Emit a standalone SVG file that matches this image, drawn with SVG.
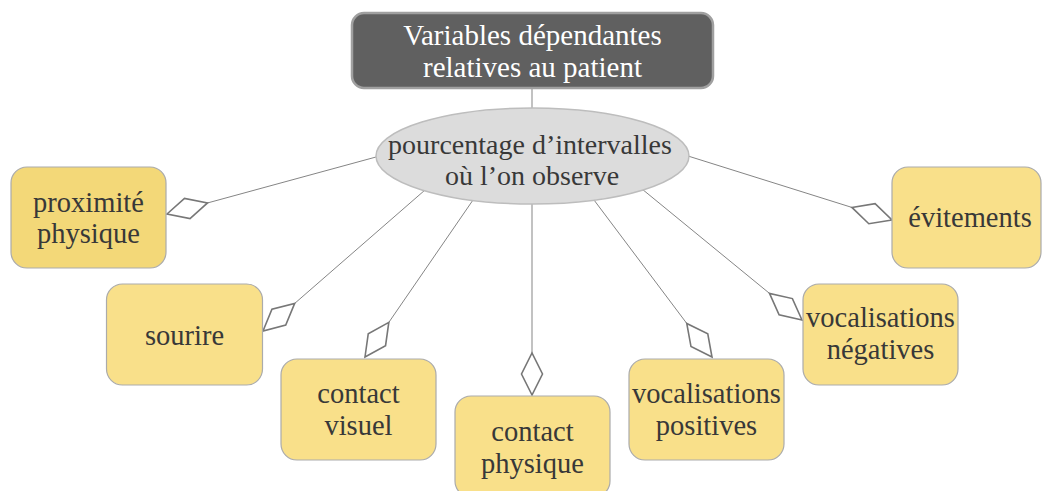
<svg xmlns="http://www.w3.org/2000/svg" width="1042" height="491" viewBox="0 0 1042 491">
  <defs>
    <style>
      .box { fill: #f9e08a; stroke: #ababab; stroke-width: 1.2; }
      .box.alt { fill: #f3d878; }
      .lbl { font-family: "Liberation Serif", "Times New Roman", serif; font-size: 28.5px; fill: #383838; text-anchor: middle; }
      .hub { font-size: 28px; }
      .conn { fill: none; stroke: #858585; stroke-width: 1; marker-start: url(#diamond); }
      .plain { fill: none; stroke: #858585; stroke-width: 1; }
    </style>
    <marker id="diamond" markerUnits="userSpaceOnUse" viewBox="-2 -13 46 26" markerWidth="46" markerHeight="26" refX="0" refY="0" orient="auto" overflow="visible">
      <polygon points="0,0 21,-10.5 42,0 21,10.5" fill="#ffffff" stroke="#777777" stroke-width="1.6" stroke-linejoin="miter"/>
    </marker>
  </defs>
  <rect width="1042" height="491" fill="#ffffff"/>

  <g id="connectors">
    <line class="plain" x1="532" y1="88" x2="532" y2="108"/>
    <path class="conn" d="M167,214 L376,157"/>
    <path class="conn" d="M263,331 L425,190"/>
    <path class="conn" d="M365,357 L473,200"/>
    <path class="conn" d="M532,395 L532,204"/>
    <path class="conn" d="M712,357 L594,200"/>
    <path class="conn" d="M802,320 L642,189"/>
    <path class="conn" d="M892,220 L688,156"/>
  </g>

  <g id="root">
    <rect x="352" y="13" width="361" height="75" rx="12" fill="#606060" stroke="#a0a0a0" stroke-width="2.5"/>
    <text class="lbl" x="532.5" y="45" style="fill:#ffffff;font-size:29px">Variables dépendantes</text>
    <text class="lbl" x="532.5" y="77" style="fill:#ffffff;font-size:29px">relatives au patient</text>
  </g>

  <g id="hub">
    <ellipse cx="532.5" cy="156" rx="156.5" ry="48" fill="#dcdcdc" stroke="#bdbdbd" stroke-width="1.5"/>
    <text class="lbl hub" x="530" y="154">pourcentage d’intervalles</text>
    <text class="lbl hub" x="532" y="185">où l’on observe</text>
  </g>

  <g id="n-proximite">
    <rect class="box alt" x="11" y="167" width="155" height="101" rx="16"/>
    <text class="lbl" x="88.5" y="212">proximité</text>
    <text class="lbl" x="88.5" y="243">physique</text>
  </g>

  <g id="n-sourire">
    <rect class="box" x="106.5" y="284" width="156" height="101" rx="16"/>
    <text class="lbl" x="184.5" y="345">sourire</text>
  </g>

  <g id="n-contact-visuel">
    <rect class="box" x="281" y="359" width="155" height="101" rx="16"/>
    <text class="lbl" x="358.5" y="403">contact</text>
    <text class="lbl" x="358.5" y="435">visuel</text>
  </g>

  <g id="n-contact-physique">
    <rect class="box" x="455" y="396" width="155" height="101" rx="16"/>
    <text class="lbl" x="532.5" y="441">contact</text>
    <text class="lbl" x="532.5" y="473">physique</text>
  </g>

  <g id="n-vocalisations-positives">
    <rect class="box" x="629" y="359" width="155" height="101" rx="16"/>
    <text class="lbl" x="706.5" y="403">vocalisations</text>
    <text class="lbl" x="706.5" y="435">positives</text>
  </g>

  <g id="n-vocalisations-negatives">
    <rect class="box" x="803" y="284" width="155" height="101" rx="16"/>
    <text class="lbl" x="880.5" y="327">vocalisations</text>
    <text class="lbl" x="880.5" y="359">négatives</text>
  </g>

  <g id="n-evitements">
    <rect class="box" x="892" y="167" width="149" height="101" rx="16"/>
    <text class="lbl" x="970" y="227">évitements</text>
  </g>
</svg>
